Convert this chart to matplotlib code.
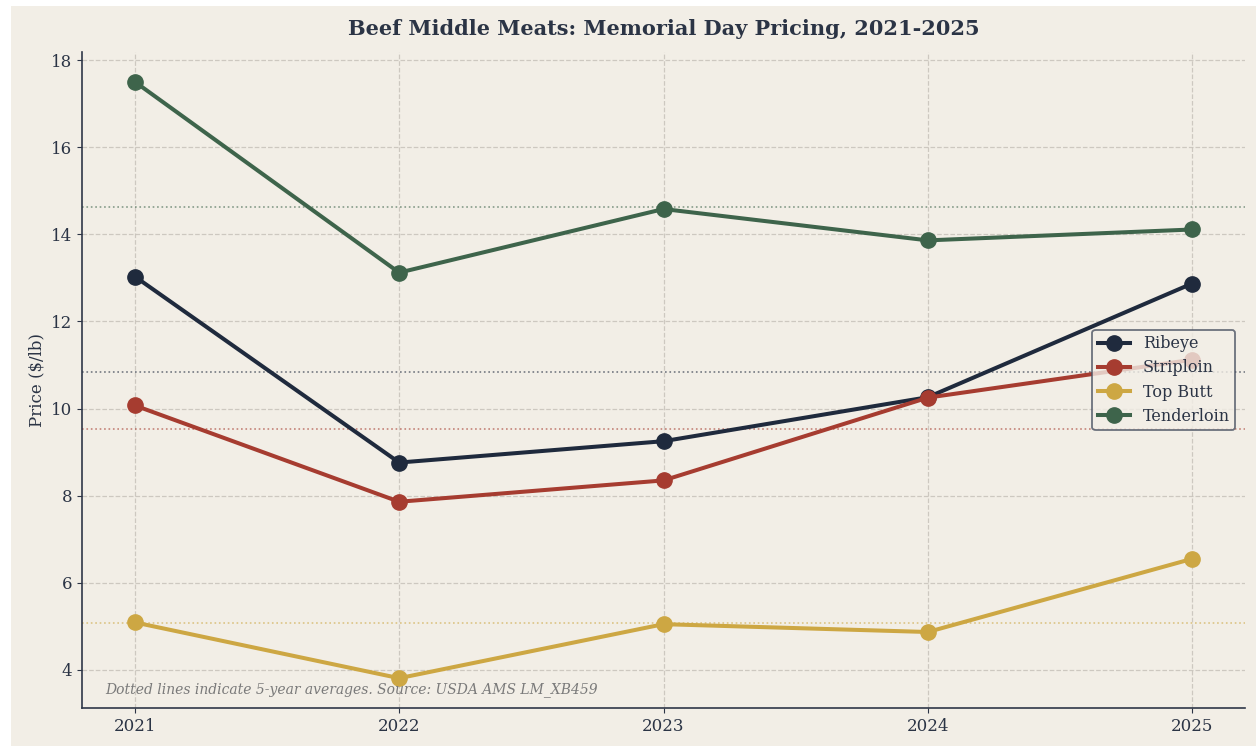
import numpy as np
import matplotlib
matplotlib.use("Agg")
import matplotlib.pyplot as plt
from matplotlib.patches import Rectangle

years = [2021, 2022, 2023, 2024, 2025]
ribeye = [13.03, 8.76, 9.25, 10.26, 12.87]
striploin = [10.07, 7.86, 8.35, 10.25, 11.12]
top_butt = [5.09, 3.81, 5.05, 4.87, 6.55]
tenderloin = [17.50, 13.12, 14.58, 13.86, 14.11]

names = ["Ribeye", "Striploin", "Top Butt", "Tenderloin"]
series = [ribeye, striploin, top_butt, tenderloin]
colors = ["#1f2a3d", "#a63c30", "#cda743", "#3e644b"]

bg = "#f2eee6"
ink = "#2b3445"

plt.rcParams["font.family"] = "DejaVu Serif"

fig = plt.figure(figsize=(12.56, 7.46), dpi=100, facecolor="white")
# screenshot-like white strip along the top and left edge
fig.patches.append(Rectangle((11 / 1256, 0), 1, 1 - 6 / 746,
                             transform=fig.transFigure, facecolor=bg,
                             edgecolor="none", zorder=-10))
ax = fig.add_axes([82 / 1256, 38 / 746, 1163 / 1256, 656 / 746])
ax.set_facecolor(bg)

for name, vals, c in zip(names, series, colors):
    ax.plot(years, vals, "-o", color=c, lw=2.9, markersize=11, label=name, zorder=3)
    ax.axhline(np.mean(vals), color=c, lw=1.2, ls=":", alpha=0.6, zorder=2)

ax.set_xticks(years)
ax.grid(True, ls="--", color="#c4bfb7", lw=0.9, alpha=0.8)
ax.set_axisbelow(True)
for s in ["top", "right"]:
    ax.spines[s].set_visible(False)
for s in ["left", "bottom"]:
    ax.spines[s].set_color("#2f3748")
    ax.spines[s].set_linewidth(1.2)
ax.tick_params(colors=ink, labelsize=12)

ax.set_ylabel("Price ($/lb)", fontsize=12, color=ink)
ax.set_title("Beef Middle Meats: Memorial Day Pricing, 2021-2025",
             fontsize=15, fontweight="bold", color=ink, pad=12)

ax.text(0.02, 0.022, "Dotted lines indicate 5-year averages. Source: USDA AMS LM_XB459",
        transform=ax.transAxes, fontsize=10, style="italic", color="#7a7a7a")

leg = ax.legend(loc="center right", fontsize=11.5, framealpha=0.8,
                facecolor=bg, edgecolor="#4a5262", handlelength=2.0,
                borderpad=0.35, labelspacing=0.45, borderaxespad=0.6)
leg.get_frame().set_linewidth(1.3)
for t in leg.get_texts():
    t.set_color(ink)

fig.savefig("out.png", dpi=100, facecolor=fig.get_facecolor())
